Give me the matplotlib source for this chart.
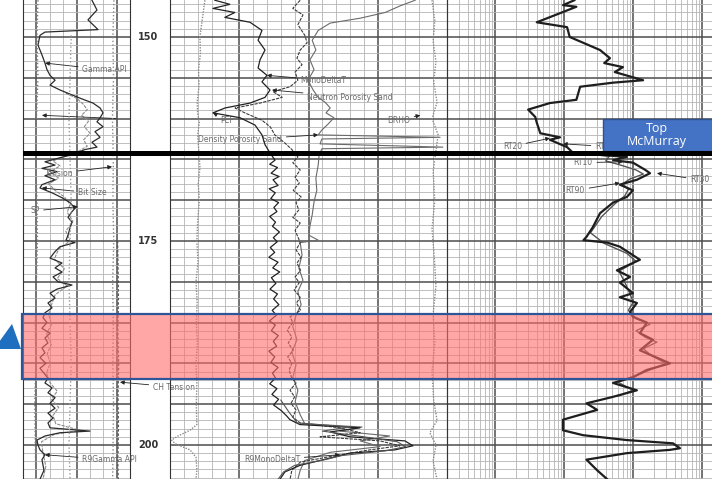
import numpy as np
import matplotlib
matplotlib.use('Agg')
import matplotlib.pyplot as plt
from matplotlib.patches import Rectangle, Polygon

TOP, BASE = 145.47, 204.17          # depth window (ft)
DEPTH_LABELS = [150, 175, 200]
TOP_MCMURRAY = 164.2
ZONE = (183.95, 191.97)             # highlighted interval

# ---- track 1 : gamma ray etc. ----
gamma = [(145.5, 96.7), (146.7, 103.7), (147.9, 91.1), (149.1, 105.2), (149.4, 30.8), (149.8, 23.8),
         (151.0, 21.0), (152.2, 26.6), (153.2, 30.8), (154.0, 33.6), (154.7, 37.9), (155.3, 44.9),
         (155.9, 37.9), (156.5, 51.9), (157.1, 68.7), (157.5, 79.9), (158.1, 98.1), (158.7, 108.0),
         (159.3, 112.2), (159.9, 108.0), (160.4, 103.7), (161.0, 112.2), (161.6, 100.9), (162.3, 108.0),
         (162.9, 96.7), (163.5, 103.7), (163.8, 86.9), (164.5, 65.9), (164.8, 51.9), (165.3, 30.8),
         (165.7, 44.9), (166.1, 26.6), (166.5, 47.7), (167.0, 30.8), (167.5, 44.9), (168.1, 26.6),
         (168.5, 23.8), (169.1, 40.7), (169.7, 54.7), (170.3, 65.9), (171.0, 72.9), (171.4, 68.7),
         (172.1, 63.1), (172.7, 68.7), (173.4, 65.9), (174.3, 63.1), (174.9, 60.3), (175.2, 72.9),
         (175.7, 51.9), (176.3, 44.9), (177.1, 37.9), (177.7, 54.7), (178.3, 44.9), (178.8, 54.7),
         (179.4, 42.1), (180.0, 49.1), (180.4, 68.7), (180.9, 47.7), (181.4, 37.9), (182.0, 44.9),
         (182.6, 35.0), (183.2, 40.7), (183.8, 30.8), (184.4, 28.0), (185.0, 33.6), (185.7, 26.6),
         (186.3, 37.9), (186.9, 30.8), (187.5, 35.0), (188.1, 26.6), (188.7, 30.8), (189.3, 23.8),
         (190.0, 32.2), (190.6, 23.8), (191.2, 29.4), (191.8, 35.0), (192.4, 30.8), (193.0, 40.7),
         (193.6, 35.0), (194.2, 44.9), (194.9, 37.9), (195.5, 44.9), (196.1, 35.0), (196.7, 42.1),
         (197.3, 35.0), (197.9, 37.9), (198.3, 93.9), (198.5, 51.9), (198.9, 30.8), (199.4, 19.6),
         (200.0, 21.0), (200.6, 23.8), (201.2, 30.8), (201.8, 26.6), (203.1, 29.4), (204.2, 23.8)]
r9_gamma = [(156.9, 60), (157.5, 75), (158.2, 84), (158.9, 90), (159.6, 82), (160.3, 92), (161.0, 86),
            (161.8, 94), (162.6, 85), (163.4, 90), (164.0, 78), (164.6, 58), (165.2, 42), (165.8, 52),
            (166.5, 38), (167.3, 50), (168.0, 36), (168.8, 45), (169.6, 58), (170.5, 66), (171.5, 62),
            (172.6, 70), (173.8, 60), (175.0, 66), (176.0, 50), (177.2, 44), (178.4, 58), (179.6, 48),
            (180.5, 62), (181.6, 45), (182.8, 40), (184.0, 36), (185.2, 40), (186.4, 33), (187.6, 40),
            (188.8, 34), (190.0, 38), (191.2, 33), (192.4, 38), (193.4, 48), (194.4, 40), (195.4, 50),
            (196.4, 42), (197.4, 46), (198.2, 80), (198.7, 44), (199.6, 26), (201.0, 28), (202.6, 32),
            (204.2, 28)]
sp = [(145.5, -66), (150, -67), (155, -66), (160, -67.5), (165, -68), (170, -67), (175, -66.5),
      (180, -67.5), (185, -68.5), (190, -68), (195, -69), (200, -68.5), (204.2, -68)]
bit_size = [(149.8, 10.5), (155, 10.4), (160, 10.3), (165, 10.4), (170, 10.5), (175, 10.4),
            (180, 10.3), (185, 10.4), (190, 10.5), (195, 10.4), (200, 10.3), (204.2, 10.4)]
tension = [(145.5, 4250), (150, 4200), (155, 4230), (160, 4180), (165, 4220), (170, 4200),
           (175, 4240), (180, 4190), (185, 4220), (190, 4200), (195, 4230), (200, 4210), (204.2, 4190)]
ch_tension = [(175, 4420), (178, 4440), (182, 4460), (186, 4430), (190, 4470), (194, 4440),
              (198, 4460), (202, 4430), (204.2, 4450)]

# ---- track 2 : porosity / sonic ----
mono_dt = [(145.5, 123.8), (146.0, 118.4), (146.5, 124.5), (147.0, 116.6), (147.6, 120.2), (148.2, 111.1),
           (149.2, 106.8), (150.4, 108.2), (151.6, 105.7), (152.8, 107.5), (153.8, 108.2), (154.7, 105.0),
           (155.5, 106.8), (156.5, 103.9), (157.4, 105.7), (158.1, 111.1), (158.7, 120.1), (159.3, 124.5),
           (159.9, 114.7), (160.8, 109.3), (162.0, 106.8), (163.2, 105.7), (164.2, 103.9), (165.1, 102.1),
           (165.6, 104.0), (166.0, 101.2), (166.7, 103.5), (167.1, 100.6), (167.5, 102.8), (168.2, 101.0),
           (168.6, 104.2), (169.1, 102.0), (169.8, 103.6), (170.3, 100.8), (170.9, 102.5), (171.4, 101.4),
           (172.0, 104.0), (172.7, 101.9), (173.2, 103.0), (173.9, 100.5), (174.6, 102.7), (175.1, 101.3),
           (175.8, 103.8), (176.4, 102.2), (177.0, 104.3), (177.6, 101.0), (178.3, 102.9), (178.8, 100.4),
           (179.5, 103.4), (180.2, 101.8), (180.9, 103.9), (181.5, 101.2), (182.1, 102.6), (182.8, 100.7),
           (183.5, 103.1), (184.1, 101.6), (184.8, 104.1), (185.3, 102.0), (186.0, 103.4), (186.6, 100.9),
           (187.3, 102.7), (187.9, 101.5), (188.5, 104.3), (189.2, 102.2), (189.9, 103.6), (190.5, 101.0),
           (191.2, 103.0), (191.8, 101.9), (192.5, 104.0), (193.1, 101.4), (193.8, 103.2), (194.4, 100.8),
           (195.1, 102.6), (195.8, 99.8), (196.4, 98.0), (196.9, 96.7), (197.5, 93.1), (197.9, 71.4),
           (198.4, 82.2), (199.0, 75.0), (199.5, 55.2), (200.1, 52.3), (200.6, 58.8), (201.0, 75.0),
           (201.6, 82.2), (202.5, 93.1), (203.3, 98.5), (204.2, 100.3)]
r9_mono_dt = [(194.5, 100.0), (196.0, 97.0), (197.3, 94.0), (197.8, 75.0), (198.3, 85.0), (199.0, 70.0),
              (199.6, 58.0), (200.2, 55.0), (200.7, 62.0), (201.3, 78.0), (201.8, 84.0), (202.5, 95.0),
              (203.3, 99.0), (204.2, 101.0)]
neutron = [(145.5, 0.318), (146.5, 0.334), (147.3, 0.312), (148.5, 0.323), (149.8, 0.308), (150.7, 0.303),
           (151.6, 0.318), (152.6, 0.325), (153.4, 0.314), (154.3, 0.329), (155.3, 0.323), (156.1, 0.340),
           (156.7, 0.377), (157.4, 0.357), (158.1, 0.405), (158.7, 0.459), (159.3, 0.438), (160.2, 0.401),
           (161.0, 0.383), (162.0, 0.373), (163.0, 0.351), (163.8, 0.336), (164.7, 0.323), (165.4, 0.334),
           (166.3, 0.318), (167.2, 0.329), (167.9, 0.320), (168.8, 0.333), (169.6, 0.316), (170.3, 0.327),
           (171.2, 0.321), (172.1, 0.334), (172.8, 0.318), (173.7, 0.329), (174.5, 0.323), (175.2, 0.318),
           (176.1, 0.327), (177.0, 0.316), (177.7, 0.325), (178.6, 0.317), (179.4, 0.329), (180.1, 0.320),
           (181.0, 0.331), (181.9, 0.318), (182.6, 0.326), (183.5, 0.317), (184.3, 0.340), (185.0, 0.334),
           (185.9, 0.346), (186.8, 0.336), (187.5, 0.344), (188.4, 0.333), (189.2, 0.345), (190.0, 0.336),
           (190.8, 0.342), (191.7, 0.337), (192.4, 0.327), (193.3, 0.340), (194.1, 0.330), (194.9, 0.338),
           (195.7, 0.327), (196.6, 0.334), (197.3, 0.318), (197.9, 0.232), (198.5, 0.188), (199.0, 0.275),
           (199.5, 0.145), (200.1, 0.102), (200.6, 0.167), (201.2, 0.232), (202.1, 0.318), (203.1, 0.336),
           (204.2, 0.340)]
density = [(145.5, 0.069), (146.2, 0.102), (147.0, 0.134), (147.7, 0.188), (148.3, 0.253), (149.2, 0.279),
           (150.4, 0.292), (151.6, 0.284), (152.8, 0.297), (154.0, 0.288), (155.3, 0.301), (156.5, 0.290),
           (157.4, 0.279), (158.0, 0.264), (158.7, 0.253), (159.3, 0.262), (159.9, 0.245), (160.7, 0.258),
           (161.4, 0.271), (162.0, 0.279), (162.3, 0.015), (162.5, 0.271), (163.1, 0.275), (163.5, 0.009),
           (163.7, 0.271), (164.5, 0.277), (165.7, 0.279), (167.3, 0.284), (168.8, 0.282), (170.2, 0.288),
           (171.8, 0.292), (173.2, 0.297), (174.3, 0.299), (174.9, 0.279), (175.2, 0.318), (176.7, 0.314),
           (178.3, 0.321), (179.8, 0.312), (181.2, 0.323), (182.8, 0.316), (184.1, 0.327), (185.5, 0.334),
           (187.1, 0.325), (188.6, 0.336), (190.2, 0.327), (191.7, 0.334), (193.3, 0.323), (194.7, 0.329),
           (196.3, 0.318), (197.4, 0.308), (197.8, 0.184), (198.3, 0.232), (198.9, 0.124), (199.5, 0.188),
           (200.2, 0.145), (200.9, 0.253), (201.9, 0.308), (203.1, 0.318), (204.2, 0.323)]
pef = [(145.5, 1.26), (147.0, 1.2), (148.5, 1.14), (150.0, 1.08), (152.0, 1.1), (154.0, 1.03), (156.0, 1.05),
       (158.0, 0.98), (159.4, 1.0), (160.5, 1.06), (162.0, 1.0), (164.0, 1.04), (166.0, 1.08), (168.0, 1.02),
       (170.0, 1.06), (172.5, 1.0), (175.0, 0.97), (177.5, 1.01), (180.0, 0.94), (182.5, 0.98), (185.0, 0.95),
       (187.5, 0.99), (190.0, 0.94), (192.5, 0.97), (195.0, 0.95), (197.5, 0.97), (198.2, 0.72), (198.9, 0.29),
       (199.4, 0.05), (199.9, 0.22), (200.6, 0.72), (201.5, 0.94), (203.0, 0.97), (204.2, 0.94)]
drho = [(145.5, 0.223), (148, 0.228), (150.5, 0.225), (153, 0.23), (155.5, 0.226), (158, 0.232), (160, 0.223),
        (162, 0.234), (164, 0.23), (166.5, 0.225), (170, 0.228), (173.5, 0.223), (177, 0.227), (180.5, 0.23),
        (184, 0.225), (187.5, 0.228), (191, 0.223), (194.5, 0.226), (197, 0.232), (198.5, 0.219), (200, 0.23),
        (202, 0.225), (204.2, 0.232)]

# ---- track 3 : resistivity (ohm.m) ----
rt90 = [(145.5, 14), (146.1, 9.6), (146.3, 15), (148.2, 4.0), (148.8, 11), (150.0, 12), (151.6, 33),
        (152.6, 46), (153.2, 38), (153.7, 71), (154.3, 54), (155.3, 139), (155.6, 51), (156.1, 17),
        (157.7, 15), (158.1, 6.2), (158.9, 3.0), (159.8, 3.8), (160.5, 4.0), (161.8, 4.5), (162.3, 8.7),
        (162.6, 6.2), (163.5, 11), (164.2, 13.4), (164.7, 81), (165.1, 51), (165.4, 99), (166.3, 150),
        (166.7, 175), (167.5, 113), (168.1, 64), (168.8, 99), (169.6, 81), (170.3, 51), (171.6, 33),
        (173.3, 26), (174.5, 21), (174.9, 19), (175.2, 42), (175.7, 64), (177.3, 125), (178.6, 58),
        (179.4, 90), (180.1, 64), (181.4, 99), (181.9, 64), (182.6, 113), (183.7, 90), (184.3, 99),
        (185.0, 158), (186.3, 125), (187.1, 193), (188.4, 125), (190.0, 341), (190.8, 158), (191.7, 99),
        (192.4, 51), (193.3, 113), (194.1, 51), (194.9, 21), (195.7, 30), (196.9, 9.6), (198.2, 9.6),
        (198.8, 18.7), (199.4, 81), (199.8, 377), (200.4, 476), (200.6, 341), (201.0, 81), (201.8, 21),
        (203.1, 30), (204.2, 42)]
rt10 = [(164.2, 13), (164.6, 45), (165.2, 40), (165.6, 60), (166.3, 110), (166.8, 140), (167.4, 90),
        (168.0, 70), (168.7, 85), (169.5, 75), (170.4, 55), (172.0, 35), (174.0, 24), (175.3, 38),
        (176.5, 80), (177.5, 110), (178.7, 62), (180.0, 75), (181.5, 90), (182.5, 100), (183.5, 85),
        (184.5, 110), (185.2, 175), (186.0, 110), (186.8, 150), (187.4, 220), (188.2, 140), (189.0, 180),
        (190.0, 300), (190.6, 200), (191.5, 110), (192.3, 60), (193.3, 100), (194.0, 60)]

W = 712.0
fig = plt.figure(figsize=(7.12, 4.79), dpi=100)


def track(left, width, xlim, major, minor, log=False):
    ax = fig.add_axes([left / W, 0, width / W, 1])
    if log:
        ax.set_xscale('log')
    ax.set_xlim(*xlim)
    ax.set_ylim(BASE, TOP)
    ax.set_xticks(major)
    ax.set_xticks(minor, minor=True)
    ax.set_yticks(np.arange(150, 205, 5))
    ax.set_yticks(np.arange(146, 205, 1), minor=True)
    ax.grid(which='major', color='#4d4d4d', lw=1.1)
    ax.grid(which='minor', color='#b4b4b4', lw=0.6)
    ax.set_axisbelow(True)
    ax.patch.set_visible(False)
    ax.tick_params(which='both', length=0, labelbottom=False, labelleft=False)
    for k in ['top', 'bottom']:
        ax.spines[k].set_visible(False)
    for k in ['left', 'right']:
        ax.spines[k].set_color('#333333')
    return ax


def overlay(ax, xlim):
    t = ax.twiny()
    t.set_xlim(*xlim)
    t.axis('off')
    return t


def curve(ax, data, **kw):
    d, v = np.array(data).T
    ax.plot(v, d, **kw)


def tag(ax, text, xy, xytext, ha='left'):
    ax.annotate(text, xy=xy, xytext=xytext, fontsize=5.5, color='#6a6a6a', ha=ha, va='center',
                annotation_clip=False, zorder=6,
                arrowprops=dict(arrowstyle='-|>', color='#222222', lw=0.6, mutation_scale=6,
                                shrinkA=1, shrinkB=0))


# track 1
t1_lines = np.linspace(0, 150, 9)
ax1 = track(23, 107, (0, 150), t1_lines[[1, 4, 7]], t1_lines[[2, 3, 5, 6]])
curve(ax1, r9_gamma, color='#8c8c8c', lw=0.8, ls=(0, (3, 1)))
curve(ax1, gamma, color='#2b2b2b', lw=0.9)
curve(overlay(ax1, (-80, 20)), sp, color='#777777', lw=1.0, ls=':')
curve(overlay(ax1, (6, 16)), bit_size, color='#9a9a9a', lw=1.0, ls=':')
ax_ten = overlay(ax1, (0, 5000))
curve(ax_ten, tension, color='#8a8a8a', lw=1.0, ls=':')
curve(ax_ten, ch_tension, color='#555555', lw=0.9, ls=(0, (2, 1.5)))
tag(ax1, 'Gamma API', (31, 153.2), (83, 154.0))
tag(ax1, '', (26.6, 159.6), (132, 160.0))
tag(ax_ten, 'Tension', (4160, 165.9), (1028, 166.7))
tag(ax1, 'Bit Size', (26.6, 168.5), (77, 169.1))
tag(ax1, 'SP', (77, 170.8), (10, 171.3))
tag(ax1, 'CH Tension', (136, 192.3), (182, 192.9))
tag(ax1, 'R9Gamma API', (30.8, 201.2), (83, 201.8))

# depth track
axd = fig.add_axes([130 / W, 0, 40 / W, 1])
axd.set_ylim(BASE, TOP)
axd.set_xlim(0, 1)
axd.axis('off')
for d in DEPTH_LABELS:
    axd.text(0.45, d, str(d), ha='center', va='center', fontsize=7, fontweight='bold', color='#333333')

# track 2
t2_lines = np.linspace(0.6, 0, 21)
ax2 = track(170, 277, (0.6, 0), t2_lines[[5, 10, 15]],
            t2_lines[[i for i in range(1, 20) if i % 5]])
ax_dt = overlay(ax2, (140, 40))
curve(overlay(ax2, (0, 10)), pef, color='#8a8a8a', lw=1.0, ls=(0, (1, 1)))
curve(overlay(ax2, (-0.25, 0.25)), drho, color='#8a8a8a', lw=1.0, ls=(0, (1, 1)))
curve(ax2, density, color='#6a6a6a', lw=0.8)
curve(ax2, neutron, color='#3a3a3a', lw=0.8, ls=(0, (3, 1)))
curve(ax_dt, mono_dt, color='#222222', lw=0.9)
curve(ax_dt, r9_mono_dt, color='#555555', lw=0.8)
tag(ax2, 'MonoDeltaT', (0.390, 154.7), (0.318, 155.3))
tag(ax2, 'Neutron Porosity Sand', (0.379, 156.5), (0.303, 157.4))
tag(ax2, 'Density Porosity Sand', (0.279, 162.0), (0.357, 162.6), ha='right')
tag(ax2, 'PEF', (0.507, 159.3), (0.492, 160.2))
tag(ax2, 'DRHO', (0.058, 159.6), (0.080, 160.2), ha='right')
tag(ax2, 'R9MonoDeltaT', (0.232, 201.2), (0.318, 201.8), ha='right')

# track 3 (log)
decades = [0.1, 1, 10, 100, 1000]
t3_minor = [d * m for d in decades for m in range(2, 10) if 0.2 <= d * m <= 2000]
ax3 = track(447, 276, (0.2, 2000), [1, 10, 100, 1000], t3_minor, log=True)
curve(ax3, rt10, color='#555555', lw=1.0)
curve(ax3, rt90, color='#1e1e1e', lw=1.6)
tag(ax3, 'RT20', (6.2, 162.4), (2.44, 163.4), ha='right')
tag(ax3, 'RT60', (9.6, 163.1), (27.9, 163.4))
tag(ax3, 'RT10', (71, 165.3), (26, 165.4), ha='right')
tag(ax3, 'RT30', (221, 166.7), (665, 167.5))
tag(ax3, 'RT90', (64, 167.9), (20, 168.8), ha='right')

# annotations on top of the log
over = fig.add_axes([0, 0, 1, 1])
over.set_xlim(0, 1)
over.set_ylim(BASE, TOP)
over.axis('off')
over.axhspan(*ZONE, xmin=22 / W, xmax=1.01, facecolor=(1.0, 0.42, 0.42, 0.6),
             edgecolor='#2f5597', lw=1.6)
over.axhline(TOP_MCMURRAY, xmin=25 / W, xmax=1, color='black', lw=3.6)
over.add_patch(Rectangle((603 / W, 160.05), 0.16, 3.9, facecolor='#4472c4', edgecolor='#2f528f', lw=1))
over.text(657 / W, 162.0, 'Top\nMcMurray', ha='center', va='center', color='white',
          fontsize=9, family='Open Sans', linespacing=1.05)
over.add_patch(Polygon([(12 / W, 185.17), (-6 / W, 188.24), (21 / W, 188.24)], closed=True,
                       facecolor='#1f6fc1', edgecolor='none', clip_on=False))

fig.savefig('out.png', dpi=100)
